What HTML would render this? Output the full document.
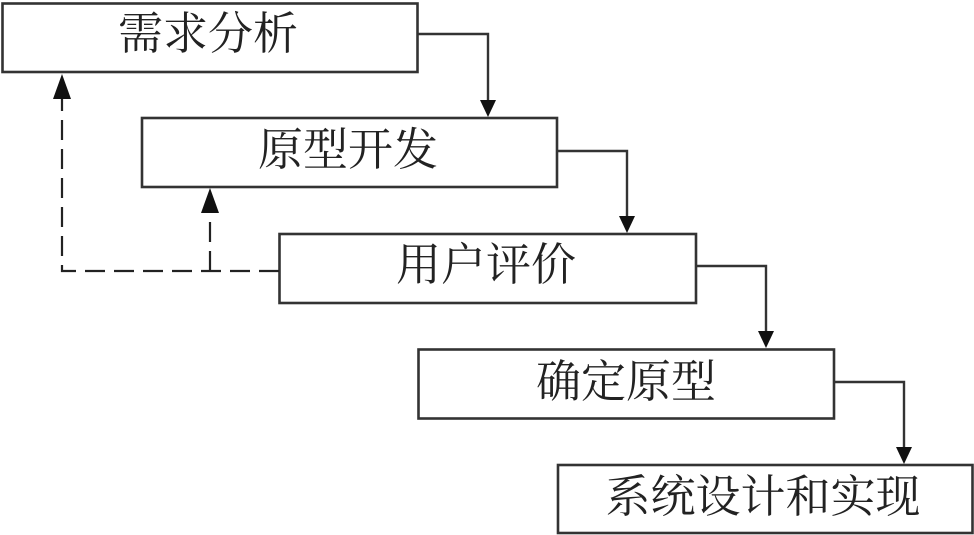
<!DOCTYPE html>
<html>
<head>
<meta charset="utf-8">
<style>
html,body{margin:0;padding:0;background:#fff;}
svg{display:block;}
text{font-family:"Liberation Serif","Noto Serif CJK SC",serif;font-size:45px;fill:#222;}
</style>
</head>
<body>
<svg width="974" height="535" viewBox="0 0 974 535" xmlns="http://www.w3.org/2000/svg">
  <g fill="#fff" stroke="#333" stroke-width="2.6">
    <rect x="2.5" y="3.5" width="415" height="68.5"/>
    <rect x="142" y="118" width="415" height="69"/>
    <rect x="279.5" y="234" width="416.5" height="69"/>
    <rect x="418.5" y="349.5" width="415.5" height="69"/>
    <rect x="558" y="465" width="414.5" height="68"/>
  </g>
  <!-- solid connectors -->
  <g fill="none" stroke="#333" stroke-width="2.4">
    <polyline points="418,34 488,34 488,102"/>
    <polyline points="557,151 627,151 627,218"/>
    <polyline points="696,266 766,266 766,333"/>
    <polyline points="834,382 904,382 904,449"/>
  </g>
  <g fill="#111">
    <polygon points="480,100 496,100 488,117"/>
    <polygon points="619,216 635,216 627,233"/>
    <polygon points="758,331 774,331 766,348"/>
    <polygon points="896,447 912,447 904,464"/>
  </g>
  <!-- dashed feedback -->
  <g fill="none" stroke="#222" stroke-width="2.2" stroke-dasharray="20 9">
    <polyline points="279,271 62,271 62,98"/>
    <line x1="210" y1="271" x2="210" y2="212"/>
  </g>
  <g fill="#111">
    <polygon points="62,74 53,99 71,99"/>
    <polygon points="210,188 201,213 219,213"/>
  </g>
  <g text-anchor="middle" dominant-baseline="central">
    <text x="208" y="34">需求分析</text>
    <text x="348" y="150">原型开发</text>
    <text x="486" y="265">用户评价</text>
    <text x="626" y="382">确定原型</text>
    <text x="763" y="497">系统设计和实现</text>
  </g>
</svg>
</body>
</html>
